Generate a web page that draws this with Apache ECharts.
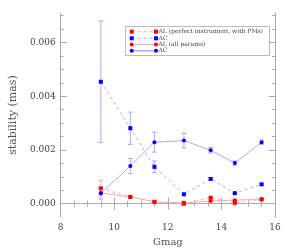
<!DOCTYPE html>
<html><head><meta charset="utf-8">
<script src="https://cdn.jsdelivr.net/npm/echarts@6/dist/echarts.min.js"></script>
<style>html,body{margin:0;padding:0;background:#fff}#c{width:299px;height:252px}</style>
</head><body><div id="c"></div>
<script>
var gmag = [9.5, 10.6, 11.5, 12.6, 13.6, 14.5, 15.5];
var alPerfect = [0.00057, 0.00025, 0.00007, 0.00000, 0.00022, 0.00003, 0.00016];
var alPerfectErr = [0.00028, 0.00003, 0.00002, 0.00002, 0.00004, 0.00002, 0.00002];
var acPerfect = [0.00454, 0.00281, 0.00137, 0.00035, 0.00092, 0.00039, 0.00072];
var acPerfectErr = [0.00226, 0.0006, 0.00022, 0.00002, 0.00004, 0.00002, 0.00003];
var alAll = [0.00040, 0.00025, 0.00007, 0.00003, 0.00010, 0.00013, 0.00017];
var alAllErr = [0.00003, 0.00002, 0.00002, 0.00002, 0.00002, 0.00002, 0.00002];
var acAll = [0.00039, 0.00140, 0.00229, 0.00235, 0.00199, 0.00151, 0.00229];
var acAllErr = [0.00022, 0.00028, 0.00037, 0.00027, 0.00010, 0.00008, 0.00008];
var yMajor = [0, 0.002, 0.004, 0.006];
var yMinor = [0.0005, 0.001, 0.0015, 0.0025, 0.003, 0.0035, 0.0045, 0.005, 0.0055, 0.0065, 0.007];
var legendNames = ['AL (perfect instrument, with PMs)', 'AC', 'AL (all params)', 'AC'];

var FONT = 'DejaVu Serif';
var AX = '#aaaaaa';
var BLUE = '#0000ff', RED = '#ff0000', PBLUE = '#aaaaff', PRED = '#ffaaaa';

function pairs(v){ return gmag.map(function(x,i){ return [x, v[i]]; }); }
function errs(v,e){ return gmag.map(function(x,i){ return [x, v[i]-e[i], v[i]+e[i]]; }); }

function errSeries(data, color){
  return {
    type:'custom', z:1, data:data, silent:true,
    renderItem:function(params, api){
      var lo = api.coord([api.value(0), api.value(1)]);
      var hi = api.coord([api.value(0), api.value(2)]);
      var w = 2.5, st = {stroke:color, lineWidth:1};
      return {type:'group', children:[
        {type:'line', shape:{x1:lo[0],y1:lo[1],x2:hi[0],y2:hi[1]}, style:st},
        {type:'line', shape:{x1:lo[0]-w,y1:lo[1],x2:lo[0]+w,y2:lo[1]}, style:st},
        {type:'line', shape:{x1:hi[0]-w,y1:hi[1],x2:hi[0]+w,y2:hi[1]}, style:st}
      ]};
    }
  };
}
function lineSeries(v, sym, color, lcolor, dashed){
  return {type:'line', z:3, data:pairs(v), symbol:sym, symbolSize:4, showSymbol:true,
    itemStyle:{color:color}, lineStyle:{color:lcolor, width:1, type: dashed ? [3,3] : 'solid'},
    animation:false};
}
function yAx(pos, ticks, len, showLine, labels){
  return {type:'value', position:pos, min:-0.0005, max:0.0071,
    axisLine:{show:showLine, lineStyle:{color:AX}},
    axisTick:{show:true, inside:true, length:len, customValues:ticks, lineStyle:{color:AX}},
    axisLabel:{show:labels, customValues:ticks, margin:5, fontFamily:FONT, fontSize:9, color:'#444',
      formatter:function(v){ return v.toFixed(3); }},
    splitLine:{show:false}};
}
function xAx(pos, labels){
  return {type:'value', position:pos, min:8, max:16, interval:2,
    axisLine:{show:true, lineStyle:{color:AX}},
    axisTick:{show:true, inside:true, length:6, lineStyle:{color:AX}},
    minorTick:{show:true, splitNumber:4, length:3, lineStyle:{color:AX}},
    axisLabel:{show:labels, margin:6, fontFamily:FONT, fontSize:9, color:'#444'},
    splitLine:{show:false}};
}

var xs = xAx('bottom', true);
xs.name = 'Gmag'; xs.nameLocation = 'middle'; xs.nameGap = 18;
xs.nameTextStyle = {fontFamily:FONT, fontSize:10, color:'#555'};
var y0 = yAx('left', yMajor, 6, true, true);
y0.name = 'stability (mas)'; y0.nameLocation = 'middle'; y0.nameGap = 40;
y0.nameTextStyle = {fontFamily:FONT, fontSize:11, color:'#555'};

var lx = 131.7, rx = 156, rows = [31.7, 38.3, 44.5, 50.7];
var legCols = [RED, BLUE, RED, BLUE], legLine = [PRED, PBLUE, PRED, PBLUE];
var legSym = ['rect','rect','circle','circle'], legDash = [true, true, false, false];
var g = [{type:'rect', shape:{x:125.5, y:26.5, width:144, height:29}, style:{fill:'#fff', stroke:'#bbb', lineWidth:1}, z:10}];
rows.forEach(function(y,i){
  g.push({type:'line', shape:{x1:lx,y1:y,x2:rx,y2:y}, style:{stroke:legLine[i], lineWidth: i===3 ? 1.5 : 1, lineDash: legDash[i] ? [3,3] : null}, z:11});
  [lx, rx].forEach(function(x){
    if (legSym[i]==='rect') g.push({type:'rect', shape:{x:x-2,y:y-2,width:4,height:4}, style:{fill:legCols[i]}, z:12});
    else g.push({type:'circle', shape:{cx:x,cy:y,r:2}, style:{fill:legCols[i]}, z:12});
  });
  g.push({type:'text', x:158.5, y:y, style:{text:legendNames[i], font:'6px "DejaVu Serif"', fill:'#444', verticalAlign:'middle'}, z:12});
});

var chart = echarts.init(document.getElementById('c'), null, {renderer:'canvas'});
chart.setOption({
  animation:false,
  grid:{left:57.5, right:24, top:13, bottom:32},
  xAxis:[xs, xAx('top', false)],
  yAxis:[y0, yAx('left', yMinor, 3, false, false), yAx('right', yMajor, 6, true, false), yAx('right', yMinor, 3, false, false)],
  graphic:g,
  series:[
    errSeries(errs(alPerfect, alPerfectErr), PRED),
    errSeries(errs(alAll, alAllErr), PRED),
    errSeries(errs(acPerfect, acPerfectErr), PBLUE),
    errSeries(errs(acAll, acAllErr), PBLUE),
    lineSeries(alPerfect, 'rect', RED, PRED, true),
    lineSeries(alAll, 'circle', RED, PRED, false),
    lineSeries(acPerfect, 'rect', BLUE, PBLUE, true),
    lineSeries(acAll, 'circle', BLUE, PBLUE, false)
  ]
});
</script></body></html>
